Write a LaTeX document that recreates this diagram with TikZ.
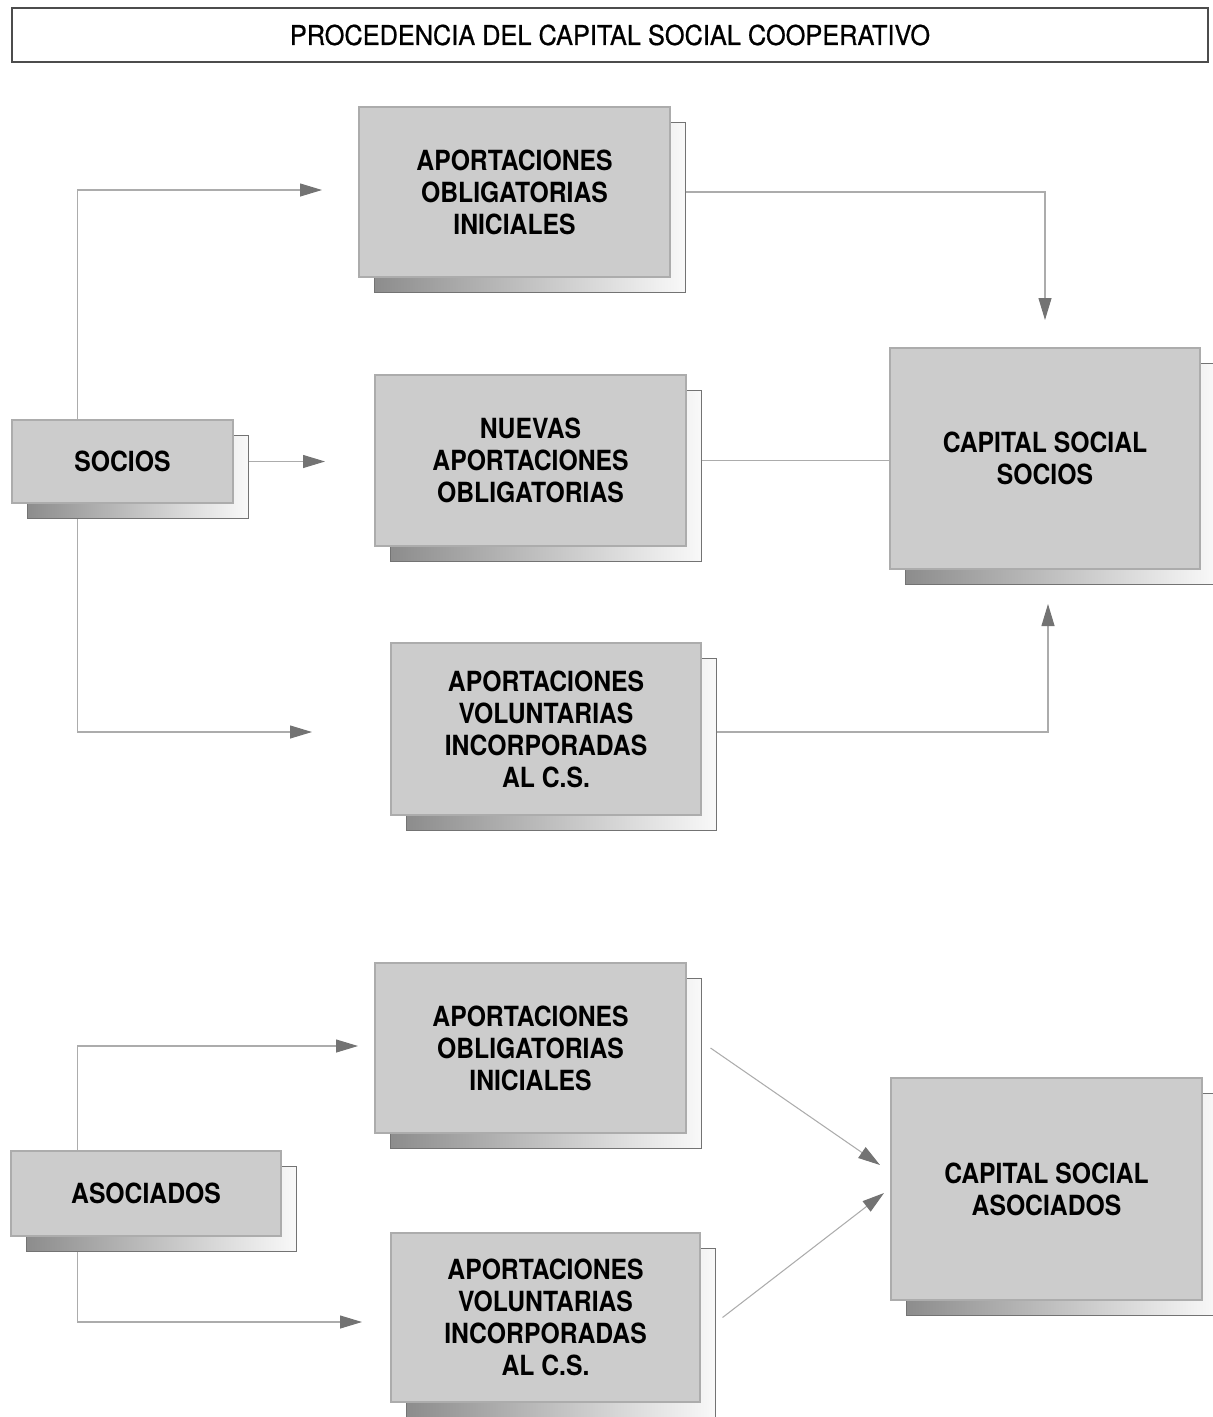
\documentclass[tikz,border=0pt]{standalone}
\usepackage{fontspec}
\setmainfont[FakeStretch=0.89]{TeX Gyre Heros}
\newfontfamily\titulofont[FakeStretch=0.93,FakeBold=0.7]{TeX Gyre Heros}
\usetikzlibrary{arrows.meta,shadows,backgrounds}
\begin{document}
\begin{tikzpicture}[line width=0.6pt]
            \tikzstyle{caja}=[draw=gray!65,fill=gray!40,align=center,inner sep=0pt,
              font=\fontsize{15.8}{18.2}\selectfont\bfseries,
              general shadow={shadow xshift=0.3cm,shadow yshift=-0.3cm,left color=gray!90,right color=gray!5,draw=black!55,line width=0.5pt}]
            \tikzstyle{linea}=[gray!65]
            \tikzstyle{flecha}=[gray!65,-{Triangle[length=4.4mm,width=2.6mm,color=black!55]}]
            \useasboundingbox (0,0) rectangle (24.24,-28.34);
            \node[draw=black!70,minimum width=23.92cm,minimum height=1.08cm,inner sep=0pt,
              font=\titulofont\fontsize{15.5}{18}\selectfont](titulo) at (12.2,-0.7){PROCEDENCIA DEL CAPITAL SOCIAL COOPERATIVO};
            \node[caja,minimum width=6.22cm,minimum height=3.4cm](oblig) at (10.29,-3.84){APORTACIONES\\OBLIGATORIAS\\INICIALES};
            \node[caja,minimum width=6.22cm,minimum height=3.42cm](nuevas) at (10.61,-9.21){NUEVAS\\APORTACIONES\\OBLIGATORIAS};
            \node[caja,minimum width=6.2cm,minimum height=3.44cm](volun) at (10.92,-14.58){APORTACIONES\\VOLUNTARIAS\\INCORPORADAS\\AL C.S.};
            \node[caja,minimum width=4.42cm,minimum height=1.66cm](socios) at (2.45,-9.23){SOCIOS};
            \node[caja,minimum width=6.2cm,minimum height=4.42cm](capsoc) at (20.9,-9.17){CAPITAL SOCIAL\\SOCIOS};
            \node[caja,minimum width=6.22cm,minimum height=3.4cm](obliga) at (10.61,-20.96){APORTACIONES\\OBLIGATORIAS\\INICIALES};
            \node[caja,minimum width=6.18cm,minimum height=3.38cm](voluna) at (10.91,-26.35){APORTACIONES\\VOLUNTARIAS\\INCORPORADAS\\AL C.S.};
            \node[caja,minimum width=5.4cm,minimum height=1.7cm](asoc) at (2.92,-23.87){ASOCIADOS};
            \node[caja,minimum width=6.22cm,minimum height=4.44cm](capaso) at (20.93,-23.78){CAPITAL SOCIAL\\ASOCIADOS};
            \coordinate (t1) at (1.54,-3.8);
            \coordinate (t2) at (1.54,-14.64);
            \coordinate (a1) at (6.44,-3.8);
            \coordinate (a2) at (6.5,-9.23);
            \coordinate (a3) at (6.24,-14.64);
            \coordinate (c1) at (20.9,-6.4);
            \coordinate (c2) at (20.96,-12.08);
            \coordinate (t3) at (1.54,-20.92);
            \coordinate (t4) at (1.54,-26.44);
            \coordinate (a4) at (7.16,-20.92);
            \coordinate (a5) at (7.24,-26.44);
            \coordinate (e1) at (17.6,-23.3);
            \coordinate (e2) at (17.68,-23.86);
            \begin{scope}[on background layer]
              \draw[linea] (t1) -- (t2);
              \draw[linea] (t3) -- (t4);
            \end{scope}
            \draw[flecha] (t1) -- (a1);
            \draw[flecha] ([xshift=3mm]socios.east) -- (a2);
            \draw[flecha] (t2) -- (a3);
            \draw[flecha] ([xshift=3mm]oblig.east) -| (c1);
            \draw[linea] ([xshift=3mm]nuevas.east) -- (nuevas.east -| capsoc.west);
            \draw[flecha] ([xshift=3mm,yshift=-0.06cm]volun.east) -| (c2);
            \draw[flecha] (t3) -- (a4);
            \draw[flecha] (t4) -- (a5);
            \draw[flecha] ([xshift=4.8mm]obliga.east) -- (e1);
            \draw[flecha] ([xshift=4.4mm]voluna.east) -- (e2);
          \end{tikzpicture}
\end{document}
